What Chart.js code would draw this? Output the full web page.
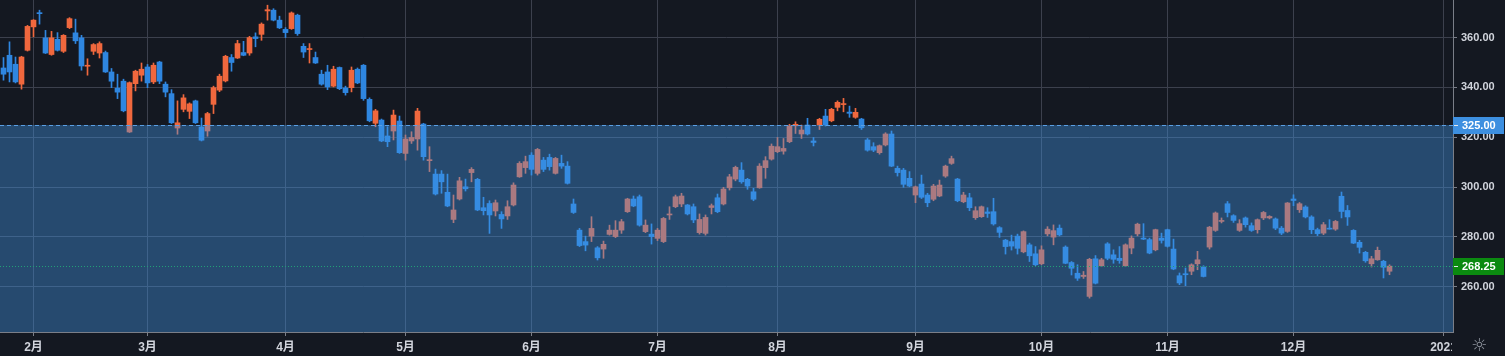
<!DOCTYPE html>
<html><head><meta charset="utf-8">
<script src="https://cdn.jsdelivr.net/npm/chart.js@4/dist/chart.umd.min.js"></script>
<style>html,body{margin:0;padding:0;background:#141821;overflow:hidden}</style>
</head><body>
<canvas id="c" width="1505" height="356" style="display:block"></canvas>
<script>
const opens=[347.8,352.9,349.3,341.3,354.9,364.3,369.9,359.9,353.2,359.3,354.5,364.0,361.9,359.9,348.5,354.5,353.8,354.0,346.2,339.7,342.5,322.1,341.5,344.9,348.2,342.2,350.2,341.3,337.5,323.7,331.2,330.4,334.6,324.1,322.5,333.2,338.9,342.6,352.0,351.8,354.0,353.8,360.3,361.3,370.7,371.0,367.0,363.3,363.6,369.0,356.5,355.2,352.0,345.3,346.2,340.5,348.0,339.8,339.9,347.3,348.9,335.2,325.6,326.9,320.5,322.5,326.5,313.5,318.5,319.3,325.3,310.6,305.2,305.2,297.9,287.0,295.2,300.1,305.8,303.1,291.7,293.4,290.4,289.0,288.4,292.8,304.1,307.8,312.8,305.5,310.8,311.9,305.5,309.5,308.4,293.2,282.7,278.1,280.3,275.6,275.1,281.0,280.1,282.7,290.1,295.2,296.1,282.1,281.1,279.4,278.1,288.8,292.1,293.2,292.8,292.1,281.7,281.4,291.8,295.7,293.2,299.7,303.2,306.8,303.1,298.1,299.7,307.8,311.2,314.2,314.4,318.2,324.6,321.3,324.9,318.5,324.9,328.5,326.6,332.0,333.1,330.1,328.0,327.3,318.9,316.2,313.8,316.9,321.3,307.5,306.8,303.5,296.8,301.2,296.8,295.1,296.4,304.4,309.5,303.2,294.1,295.7,287.7,288.1,290.0,290.1,283.7,278.7,278.1,280.3,274.0,276.8,273.2,269.2,281.2,279.9,283.5,275.9,269.7,265.4,264.1,256.1,271.2,268.4,277.2,272.8,271.4,268.4,275.5,281.2,279.5,278.9,274.8,279.5,282.9,275.1,264.4,265.2,266.2,269.2,267.9,275.9,282.6,286.2,293.3,288.5,282.6,287.6,284.5,282.9,287.6,287.6,287.2,283.5,282.2,295.2,290.9,292.0,288.0,282.9,281.5,283.5,283.1,296.3,290.6,282.6,277.8,273.8,269.2,270.8,270.2,266.2];
const highs=[352.0,358.3,352.2,352.5,364.9,367.2,371.0,362.9,362.5,362.0,361.2,368.0,367.4,360.9,351.5,357.6,358.3,354.6,347.6,345.3,343.3,342.2,346.9,349.8,349.2,349.8,350.5,342.2,339.1,334.6,337.1,333.8,334.9,327.7,330.0,340.5,345.3,352.9,353.2,358.9,358.5,360.5,361.9,365.9,373.0,371.6,368.6,364.0,370.3,369.4,357.6,357.6,354.2,346.9,348.9,348.5,348.2,340.5,348.2,347.8,349.2,335.8,331.2,327.3,324.2,330.9,328.5,320.9,322.2,331.6,325.6,316.2,307.2,306.6,305.2,296.8,303.9,303.2,307.8,303.5,295.9,294.5,294.8,290.1,294.5,301.7,310.2,312.4,313.8,315.5,311.9,313.2,311.9,312.8,310.2,295.2,283.4,280.3,288.1,276.1,278.3,284.7,286.5,287.0,295.5,296.4,296.8,286.8,285.2,283.4,287.8,292.1,296.8,297.5,293.0,293.2,289.2,288.8,293.2,297.2,299.9,305.1,308.4,309.8,303.5,299.5,309.4,312.2,317.3,319.9,319.5,325.2,326.2,324.9,327.6,319.9,327.6,331.2,331.6,334.6,335.6,332.5,331.6,327.6,319.5,317.8,316.9,321.8,322.5,308.4,307.5,306.2,300.4,304.8,297.5,301.1,302.8,308.8,312.4,303.5,297.9,297.5,292.1,292.4,291.7,295.5,284.1,279.0,280.7,281.1,282.4,277.5,276.1,276.4,284.1,284.8,284.8,276.4,270.1,268.8,266.1,271.4,272.5,271.4,277.7,274.8,276.1,277.2,280.4,285.5,285.3,279.5,283.1,281.5,283.1,279.1,265.5,267.5,269.2,274.2,268.4,284.2,290.0,287.6,294.2,288.9,286.9,288.0,285.6,287.2,290.2,288.5,287.6,284.2,293.8,296.9,293.8,292.5,288.5,283.5,285.8,286.9,286.6,298.0,292.6,282.9,278.6,274.2,272.2,275.9,270.6,268.8];
const lows=[342.9,342.2,341.8,339.3,354.6,360.3,365.4,353.6,352.9,354.6,354.0,363.6,357.6,346.9,344.9,353.2,351.8,346.0,339.9,335.5,330.2,321.9,338.6,342.5,339.9,341.5,341.5,336.2,325.5,321.2,330.2,327.5,325.5,318.5,320.4,329.5,338.3,342.2,346.5,351.6,352.7,352.9,356.3,358.9,367.0,366.7,363.6,360.0,363.3,360.9,352.0,349.8,349.6,340.9,339.1,340.2,339.1,336.9,338.2,341.5,334.8,326.2,324.2,318.2,316.2,318.9,313.5,310.8,317.5,314.8,310.8,306.2,296.8,297.5,292.1,285.7,294.8,298.4,302.1,290.5,288.8,281.4,288.4,283.4,287.0,292.4,303.9,305.5,304.8,304.8,306.2,306.8,305.2,307.5,301.2,289.4,276.1,274.4,278.1,270.7,271.4,280.7,279.7,281.4,289.8,292.1,284.3,281.7,277.1,278.5,277.7,287.0,291.7,292.1,288.8,285.7,281.1,280.7,289.2,289.7,292.8,298.8,302.5,301.5,299.1,294.5,299.5,303.5,310.8,313.8,313.2,317.8,321.5,319.5,320.9,316.5,323.1,324.5,326.2,330.6,330.2,328.0,327.6,323.1,314.4,314.2,313.2,316.5,308.2,304.4,299.9,300.1,293.7,295.4,292.1,294.5,296.1,303.9,309.1,294.1,293.7,290.5,287.0,287.8,287.8,284.7,279.8,273.1,274.7,273.1,273.6,270.1,268.4,268.8,280.4,276.8,280.4,269.2,264.7,262.5,263.3,255.4,261.1,268.1,270.8,269.4,269.4,268.1,273.2,280.4,278.9,273.2,274.4,277.5,275.9,266.8,260.8,260.4,264.8,266.8,263.9,275.1,282.2,285.6,288.0,285.8,282.2,283.9,282.2,281.5,286.9,287.2,282.9,280.9,281.8,292.5,289.8,287.6,281.3,280.5,280.9,283.1,282.6,287.6,284.6,277.3,273.5,269.8,267.9,270.6,263.5,264.8];
const closes=[345.3,346.2,342.2,352.2,364.5,367.0,369.6,353.8,359.9,354.9,360.9,367.6,358.7,348.6,348.8,357.2,357.6,346.2,342.5,338.1,330.6,341.9,346.5,347.3,341.8,348.9,342.5,338.1,325.8,325.8,335.8,333.4,325.8,318.8,329.5,339.9,344.5,352.5,350.0,357.6,352.9,360.0,359.6,365.4,371.2,367.0,363.9,362.0,369.9,361.6,354.2,355.6,349.8,341.3,340.2,347.3,339.5,337.9,346.9,341.8,335.5,326.6,330.6,318.5,318.2,328.9,313.8,319.3,319.9,330.5,312.2,311.0,297.2,302.1,292.4,290.8,302.5,299.3,307.1,290.8,290.5,288.8,293.7,287.2,292.1,300.8,309.5,310.2,307.1,315.1,307.1,308.2,311.5,308.4,301.5,289.8,276.5,276.7,283.4,271.6,277.0,282.7,282.7,286.1,295.2,292.4,284.7,284.7,280.1,282.7,287.4,289.2,296.1,296.4,289.2,286.8,287.0,287.8,292.5,290.1,299.2,304.1,307.9,302.1,300.4,295.1,308.4,310.6,316.4,316.2,315.5,324.5,325.2,322.9,321.3,317.9,327.2,324.9,331.2,334.0,333.5,329.6,330.0,323.8,314.8,314.8,316.6,321.3,308.4,305.8,301.1,300.4,300.1,295.9,293.7,300.4,300.8,308.4,311.4,294.5,296.8,291.7,290.5,292.1,289.4,285.2,281.8,276.1,276.3,275.4,282.1,272.4,268.8,274.8,283.1,282.5,280.8,269.4,267.4,263.4,264.6,271.0,261.4,270.8,271.4,271.0,270.5,276.8,279.5,285.1,279.1,273.5,282.9,278.6,276.2,267.1,261.5,264.8,268.8,270.8,264.1,283.9,289.6,286.6,289.8,286.6,285.3,284.9,282.6,286.9,289.8,288.2,283.5,281.5,293.6,294.6,293.3,288.0,282.9,281.3,284.9,283.1,286.2,290.2,288.0,277.5,275.8,270.4,271.2,274.6,267.8,268.25];
const monthTicks=[5,24,47,67,88,109,129,152,173,194,215,240];
const monthLabels=['2月','3月','4月','5月','6月','7月','8月','9月','10月','11月','12月','2021'];
const yTicks=[260,280,300,320,340,360];
const alertLevel=325;
const lastPrice=268.25;

const BG='#141821', UP='#f0683e', DOWN='#2f86e0', GRID='#3c404d', AXIS='#7a7e88', TXT='#d1d4dc';
const FONT="'Liberation Sans', Arial, 'Noto Sans CJK JP', sans-serif";
const colors=closes.map((c,i)=> c>=opens[i]?UP:DOWN);

const drawPlugin={
  id:'deco',
  beforeDraw(chart){const c=chart.ctx;c.save();c.fillStyle=BG;c.fillRect(0,0,chart.width,chart.height);c.restore();},
  afterDatasetsDraw(chart){
    const c=chart.ctx,a=chart.chartArea,y=chart.scales.y;
    const ya=Math.round(y.getPixelForValue(alertLevel));
    c.save();
    c.fillStyle='rgba(65,150,229,0.4)';
    c.fillRect(a.left,ya,a.right-a.left,a.bottom-ya);
    c.strokeStyle='#5a9fe4';c.lineWidth=1;c.setLineDash([4,3]);
    c.beginPath();c.moveTo(a.left,ya+0.5);c.lineTo(a.right,ya+0.5);c.stroke();
    const yl=Math.round(y.getPixelForValue(lastPrice));
    c.strokeStyle='#22a077';c.setLineDash([1,2]);
    c.beginPath();c.moveTo(a.left,yl+0.5);c.lineTo(a.right,yl+0.5);c.stroke();
    c.restore();
  },
  afterDraw(chart){
    const c=chart.ctx,a=chart.chartArea,y=chart.scales.y;
    c.save();
    c.fillStyle=BG;c.fillRect(a.right-1,a.bottom+1,chart.width-a.right+1,chart.height-a.bottom);
    function box(val,fill){
      const py=Math.round(y.getPixelForValue(val));
      c.fillStyle=fill;c.fillRect(a.right,py-8,51,17);
      c.fillStyle='#e6e8ec';c.fillRect(a.right+1,py,4,1);
      c.fillStyle='#ffffff';c.font='bold 11px '+FONT;c.textAlign='left';c.textBaseline='middle';
      c.fillText(val.toFixed(2),a.right+9,py+1);
    }
    box(alertLevel,'#3d8fe0');
    box(lastPrice,'#0b8a10');
    c.fillStyle='#8f949e';c.font='18px "DejaVu Sans"';c.textAlign='center';c.textBaseline='middle';
    c.fillText('\u263C',1479,346);
    c.restore();
  }
};

new Chart(document.getElementById('c'),{
  type:'bar',
  data:{datasets:[
    {data:opens.map((o,i)=>({x:i,y:[lows[i],highs[i]]})),backgroundColor:colors,barThickness:1,grouped:false,borderWidth:0},
    {data:opens.map((o,i)=>({x:i,y:[o,closes[i]]})),backgroundColor:colors,barThickness:5,minBarLength:1,grouped:false,borderWidth:0}
  ]},
  options:{
    responsive:false,animation:false,devicePixelRatio:1,
    layout:{padding:0},
    plugins:{legend:{display:false},tooltip:{enabled:false}},
    scales:{
      x:{type:'linear',min:-3.5/6,max:(1453-3.5)/6,offset:false,
        grid:{color:GRID,offset:false,tickLength:4,tickColor:AXIS},
        border:{color:AXIS},
        afterBuildTicks:s=>{s.ticks=monthTicks.map(v=>({value:v}));},
        afterFit:s=>{s.height=24;s.paddingLeft=0;s.paddingRight=0;},
        ticks:{autoSkip:false,maxRotation:0,color:TXT,padding:4,font:{family:FONT,size:12,weight:'bold'},
          callback:(v,i)=>monthLabels[i]}
      },
      y:{position:'right',min:241.81,max:375.09,
        grid:{color:GRID,tickLength:4,tickColor:AXIS},
        border:{color:AXIS},
        afterBuildTicks:s=>{s.ticks=yTicks.map(v=>({value:v}));},
        afterFit:s=>{s.width=52;s.paddingTop=0;s.paddingBottom=0;},
        ticks:{color:TXT,padding:4,font:{family:FONT,size:11,weight:'bold'},callback:v=>Number(v).toFixed(2)}
      }
    }
  },
  plugins:[drawPlugin]
});
</script>
</body></html>
